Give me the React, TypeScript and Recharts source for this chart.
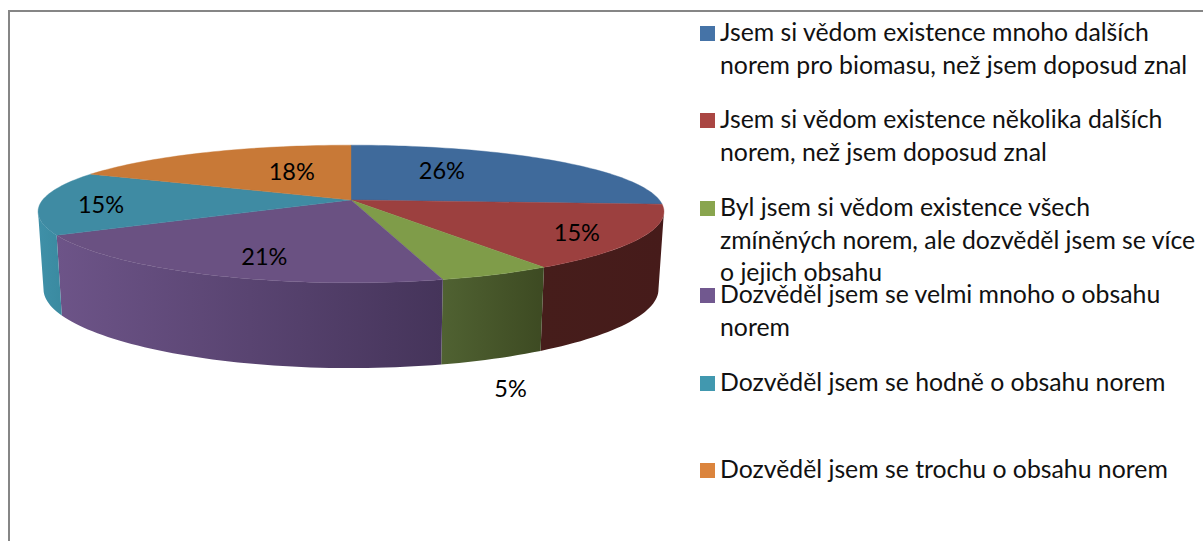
import { PieChart, Pie, Legend } from 'recharts';

const names = [
  'Jsem si vědom existence mnoho dalších\nnorem pro biomasu, než jsem doposud znal',
  'Jsem si vědom existence několika dalších\nnorem, než jsem doposud znal',
  'Byl jsem si vědom existence všech\nzmíněných norem, ale dozvěděl jsem se více\no jejich obsahu',
  'Dozvěděl jsem se velmi mnoho o obsahu\nnorem',
  'Dozvěděl jsem se hodně o obsahu norem',
  'Dozvěděl jsem se trochu o obsahu norem',
];
const values = [26, 15, 5, 21, 15, 18];

const legendColors = ['#4573a7', '#aa4643', '#89a54e', '#71588f', '#4198af', '#db843d'];
const topColors = ['#3f6a9b', '#9c403f', '#7f9c49', '#6a5182', '#3f8ba3', '#c87937'];
const wallFrom = ['#2b4a6e', '#461d1b', '#506232', '#6d5488', '#3f90a8', '#8a5426'];
const wallTo = ['#2b4a6e', '#461b1a', '#3d4a22', '#45345a', '#3a8aa0', '#8a5426'];

// hand placed offsets of the percent labels, Excel "best fit" style
const labelShift = [[-45, -3], [43, 9], [71, 143], [2, 11], [-49, 3], [39, 4]];
const LEGEND_TOP = 33.5;
const LEGEND_STEP = 87.4;
const LINE_H = 32.8;

const data = names.map((name, i) => ({ name, value: values[i], fill: legendColors[i] }));

// perspective of the pie top and of the bottom rim
const K = 0.203;
const KX = 0.17;
const CX = 351;
const CY = 200;
const R = 308.4;
const top = { rx: 1, y0: CY, ry: 66 };
const bottom = { rx: 303 / 308.4, y0: 276.5, ry: 73 };

function project(deg: number, r: number, p: typeof top, cx = CX, rx = R) {
  const t = (deg * Math.PI) / 180;
  const u = Math.sin(t) * r;
  const v = -Math.cos(t) * r;
  return [cx + (rx * p.rx * u) / (1 - KX * v), p.y0 + (p.ry * v) / (1 - K * v)];
}

function arc(from: number, to: number, p: typeof top, rx: number, cx: number) {
  const pts: number[][] = [];
  const n = Math.max(2, Math.ceil(Math.abs(to - from) / 1.5));
  for (let i = 0; i <= n; i++) pts.push(project(from + ((to - from) * i) / n, 1, p, cx, rx));
  return pts;
}

const toPath = (pts: number[][]) => 'M' + pts.map((q) => q[0].toFixed(2) + ' ' + q[1].toFixed(2)).join('L') + 'Z';

function Slice(props: any) {
  const { startAngle, endAngle, cx, outerRadius, index } = props;
  const a = 90 - startAngle;
  const b = 90 - endAngle;
  const edge = (Math.acos(-KX) * 180) / Math.PI;
  const from = Math.max(a, edge);
  const to = Math.min(b, 360 - edge);
  const topPts = arc(a, b, top, outerRadius, cx);
  return (
    <g>
      <defs>
        <linearGradient id={'wall' + index} x1="0" y1="0" x2="1" y2="0">
          <stop offset="0" stopColor={wallFrom[index]} />
          <stop offset="1" stopColor={wallTo[index]} />
        </linearGradient>
      </defs>
      {to > from && (
        <path
          d={toPath([...arc(from, to, top, outerRadius, cx), ...arc(to, from, bottom, outerRadius, cx)])}
          fill={`url(#wall${index})`}
        />
      )}
      <path d={toPath([[cx, CY], ...topPts])} fill={topColors[index]} stroke={topColors[index]} strokeWidth={0.4} />
    </g>
  );
}

function renderLabel(props: any) {
  const { index, midAngle, value } = props;
  const [x, y] = project(90 - midAngle, 0.65, top);
  return (
    <text
      x={x + labelShift[index][0]}
      y={y + labelShift[index][1]}
      textAnchor="middle"
      dominantBaseline="central"
      fontFamily="Lato"
      fontSize={23.5}
      fill="#000"
    >
      {value}%
    </text>
  );
}

function LegendBox({ payload }: any) {
  return (
    <div style={{ position: 'relative', width: 1203, height: 541, fontFamily: 'Lato', fontSize: 24.8, color: '#111' }}>
      {(payload || []).map((item: any, i: number) => {
        const y = LEGEND_TOP + i * LEGEND_STEP;
        return (
          <div key={i}>
            <div
              style={{ position: 'absolute', left: 700, top: y - 7.5, width: 15, height: 15, background: item.color }}
            />
            {String(item.value)
              .split('\n')
              .map((line, j) => (
                <div
                  key={j}
                  style={{
                    position: 'absolute',
                    left: 720,
                    top: y - 17.5 + j * LINE_H,
                    lineHeight: '32px',
                    whiteSpace: 'nowrap',
                  }}
                >
                  {line}
                </div>
              ))}
          </div>
        );
      })}
    </div>
  );
}

export default function App() {
  return (
    <div style={{ position: 'absolute', left: 0, top: 0, width: 1203, height: 541, overflow: 'hidden', background: '#fff' }}>
      <div
        style={{
          position: 'absolute',
          left: 8,
          top: 10,
          width: 1195,
          height: 531,
          borderTop: '2px solid #868686',
          borderLeft: '2px solid #868686',
          boxSizing: 'border-box',
        }}
      />
      <PieChart width={1203} height={541} margin={{ top: 0, right: 0, bottom: 0, left: 0 }}>
        <Pie
          data={data}
          dataKey="value"
          nameKey="name"
          cx={CX}
          cy={CY}
          innerRadius={0}
          outerRadius={R}
          startAngle={90}
          endAngle={-270}
          stroke="none"
          shape={Slice}
          label={renderLabel}
          labelLine={false}
          isAnimationActive={false}
        />
        <Legend
          content={<LegendBox />}
          itemSorter={null}
          wrapperStyle={{ position: 'absolute', left: 0, top: 0, width: 1203, height: 541, margin: 0 }}
        />
      </PieChart>
    </div>
  );
}
